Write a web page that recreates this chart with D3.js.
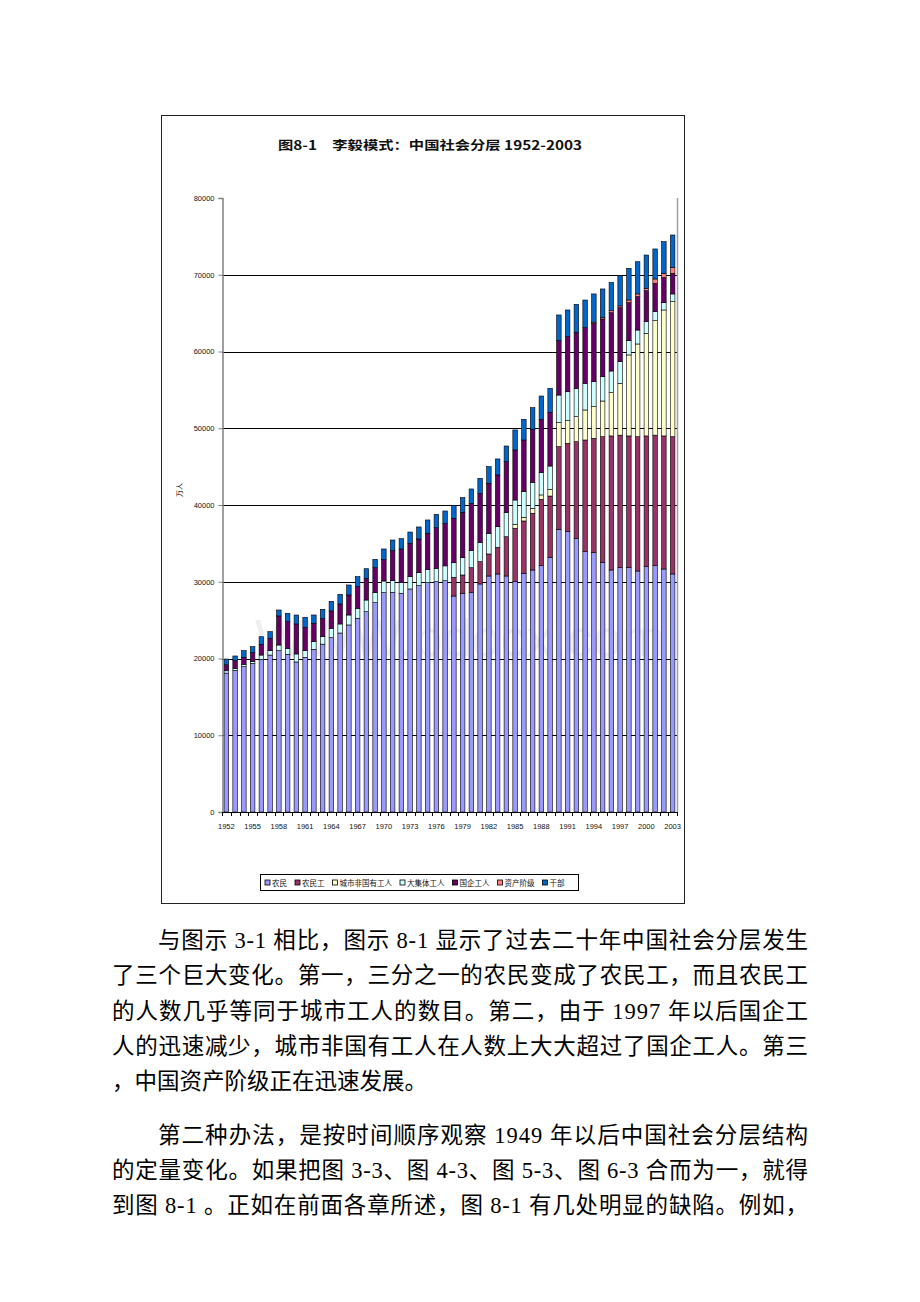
<!DOCTYPE html>
<html>
<head>
<meta charset="utf-8">
<script src="https://cdn.jsdelivr.net/npm/d3@7"></script>
<style>
  html, body { margin: 0; padding: 0; background: #fff; }
  svg { display: block; }
</style>
</head>
<body>
<svg id="page" width="920" height="1302"></svg>
<script>
// ---------- DATA ----------
const years = [1952,1953,1954,1955,1956,1957,1958,1959,1960,1961,
  1962,1963,1964,1965,1966,1967,1968,1969,1970,1971,
  1972,1973,1974,1975,1976,1977,1978,1979,1980,1981,
  1982,1983,1984,1985,1986,1987,1988,1989,1990,1991,
  1992,1993,1994,1995,1996,1997,1998,1999,2000,2001,
  2002,2003];
const xTickLabels = [1952,1955,1958,1961,1964,1967,1970,1973,1976,1979,1982,1985,1988,1991,1994,1997,2000,2003];
const yTickValues = [0,10000,20000,30000,40000,50000,60000,70000,80000];

const seriesNames = ["农民","农民工","城市非国有工人","大集体工人","国企工人","资产阶级","干部"];

const peasants = [18100,18460,18940,19370,19890,20450,21020,20550,19550,20150,
  21200,21870,22730,23320,24370,25240,26100,27280,28580,28630,
  28500,29060,29490,29880,30010,30140,28140,28500,28580,29710,
  30750,31010,30750,30010,31100,31530,32090,33190,36830,36520,
  35660,33920,33790,32540,31530,31830,31830,31400,31960,32090,
  31660,31010];
const migrantWorkers = [0,0,0,0,0,0,0,0,0,0,
  0,0,0,0,0,0,0,0,0,0,
  0,0,0,0,0,0,2440,2380,3250,2910,
  2870,3480,5120,6960,6820,7390,8650,7980,10770,11520,
  12590,14550,14900,16360,17470,17270,17170,17500,17040,17010,
  17340,17890];
const urbanNonState = [0,0,0,0,0,0,0,0,0,0,
  0,0,0,0,0,0,0,0,0,0,
  0,0,0,0,0,0,0,0,0,0,
  0,0,0,520,480,650,570,880,3130,2950,
  3260,3910,4120,4650,5640,6750,10550,12080,13370,14920,
  16410,17590];
const collectiveWorkers = [300,250,300,250,560,570,740,780,1040,870,
  990,970,1210,1180,1300,1300,1520,1300,1520,1510,
  1430,1600,1690,1740,1740,1930,1900,2260,2220,2470,
  2690,2690,3130,3160,3340,3390,2900,3030,3600,3770,
  3690,3470,3260,3170,2820,2830,1860,1820,1520,1170,
  950,1010];
const soeWorkers = [780,1010,910,1140,1400,1610,3780,3470,3910,3050,
  2400,2360,2250,2600,2610,2820,2830,3250,2820,3910,
  4340,4350,4390,4690,5300,5510,5790,5910,6170,6410,
  6520,6730,6650,6520,6730,6910,6960,7000,7080,7170,
  7300,7260,7610,7520,7600,7030,4950,4350,4040,3700,
  3260,2690];
const bourgeoisie = [0,0,0,0,0,0,0,0,0,0,
  0,0,0,0,0,0,0,0,0,0,
  0,0,0,0,0,0,0,0,0,0,
  0,0,0,0,0,0,0,0,0,0,
  0,0,150,200,250,220,350,350,300,560,
  570,780];
const cadres = [750,610,870,780,990,870,780,1090,1170,1300,
  1080,1210,1260,1260,1300,1300,1250,1090,1350,1390,
  1340,1470,1570,1740,1740,1640,1690,1910,1870,1980,
  2170,2090,2040,2610,2700,2810,3030,3120,3350,3480,
  3650,3600,3670,3710,3690,3950,4130,4200,4340,3910,
  4120,4210];

const seriesValues = [peasants, migrantWorkers, urbanNonState, collectiveWorkers, soeWorkers, bourgeoisie, cadres];
const seriesColors = ["#9999ff","#993366","#ffffcc","#ccffff","#660066","#ff8080","#0066cc"];

const chartTitle = "图8-1　李毅模式：中国社会分层 1952-2003";
const yAxisTitle = "万人";

const bodyLines = [
  {t:"与图示 3-1 相比，图示 8-1 显示了过去二十年中国社会分层发生", indent:true, justify:true},
  {t:"了三个巨大变化。第一，三分之一的农民变成了农民工，而且农民工", indent:false, justify:true},
  {t:"的人数几乎等同于城市工人的数目。第二，由于 1997 年以后国企工", indent:false, justify:true},
  {t:"人的迅速减少，城市非国有工人在人数上大大超过了国企工人。第三", indent:false, justify:true},
  {t:"，中国资产阶级正在迅速发展。", indent:false, justify:false},
  {t:"第二种办法，是按时间顺序观察 1949 年以后中国社会分层结构", indent:true, justify:true, newPara:true},
  {t:"的定量变化。如果把图 3-3、图 4-3、图 5-3、图 6-3 合而为一，就得", indent:false, justify:true},
  {t:"到图 8-1 。正如在前面各章所述，图 8-1 有几处明显的缺陷。例如，", indent:false, justify:true}
];

// ---------- LAYOUT ----------
const svg = d3.select("#page");
const CJK = "'Noto Sans CJK SC', 'Noto Sans', sans-serif";
const LATIN = "'Liberation Sans', Arial, " + CJK;

const frame = {x:161.5, y:115.5, w:523, h:788};
const plot = {left:222, right:677, top:198, bottom:812};

svg.append("rect")
  .attr("x", frame.x).attr("y", frame.y)
  .attr("width", frame.w).attr("height", frame.h)
  .attr("fill", "#fff").attr("stroke", "#222").attr("stroke-width", 1);

// title
svg.append("text")
  .attr("x", 430).attr("y", 150)
  .attr("text-anchor", "middle")
  .attr("font-family", CJK).attr("font-weight", "bold")
  .attr("font-size", 12.5)
  .attr("textLength", 304).attr("lengthAdjust", "spacingAndGlyphs")
  .attr("fill", "#111")
  .text(chartTitle);

// scales
const x = d3.scaleBand().domain(years).range([plot.left, plot.right])
  .paddingInner(0.48).paddingOuter(0.24);
const y = d3.scaleLinear().domain([0, 80000]).range([plot.bottom, plot.top]);

// watermark
svg.append("text")
  .attr("x", 255).attr("y", 656)
  .attr("font-family", LATIN).attr("font-size", 52)
  .attr("textLength", 410).attr("lengthAdjust", "spacingAndGlyphs")
  .attr("fill", "#efefef")
  .text("WWW.bdocx.com");

// gridlines
svg.append("g").selectAll("line")
  .data(yTickValues.filter(v => v > 0 && v < 80000))
  .join("line")
  .attr("x1", plot.left).attr("x2", plot.right)
  .attr("y1", d => Math.round(y(d)) + 0.5).attr("y2", d => Math.round(y(d)) + 0.5)
  .attr("stroke", "#000").attr("stroke-width", 1);

// plot right border
svg.append("line")
  .attr("x1", plot.right + 0.5).attr("x2", plot.right + 0.5)
  .attr("y1", plot.top).attr("y2", plot.bottom)
  .attr("stroke", "#a0a0a0").attr("stroke-width", 1.5);

// stacked bars
const table = years.map((yr, i) => {
  const row = {year: yr};
  seriesNames.forEach((n, k) => row[n] = seriesValues[k][i]);
  return row;
});
const stacked = d3.stack().keys(seriesNames)(table);

const layers = svg.append("g").selectAll("g")
  .data(stacked).join("g")
  .attr("fill", (d, i) => seriesColors[i]);
layers.selectAll("rect")
  .data(d => d.filter(s => s[1] - s[0] > 0))
  .join("rect")
  .attr("x", d => x(d.data.year))
  .attr("width", x.bandwidth())
  .attr("y", d => y(d[1]))
  .attr("height", d => y(d[0]) - y(d[1]))
  .attr("stroke", "#000").attr("stroke-width", 0.6);

// y axis
const yAxis = svg.append("g")
  .attr("transform", `translate(${plot.left + 0.5},0)`)
  .call(d3.axisLeft(y).tickValues(yTickValues).tickSize(4).tickPadding(4).tickFormat(d3.format("d")));
yAxis.select(".domain").attr("stroke", "#808080").attr("stroke-width", 1.5);
yAxis.selectAll(".tick line").attr("stroke", "#808080");
yAxis.selectAll("text").attr("font-family", LATIN).attr("font-size", 7.5).attr("fill", "#111");

svg.append("text")
  .attr("transform", `translate(182,490) rotate(-90)`)
  .attr("text-anchor", "middle")
  .attr("font-family", CJK).attr("font-size", 7)
  .attr("fill", "#111")
  .text(yAxisTitle);

// x axis
const step = x.step();
svg.append("line")
  .attr("x1", plot.left).attr("x2", plot.right)
  .attr("y1", plot.bottom + 0.5).attr("y2", plot.bottom + 0.5)
  .attr("stroke", "#000").attr("stroke-width", 1);
svg.append("g").selectAll("line")
  .data(years.concat([null]))
  .join("line")
  .attr("x1", (d, i) => Math.round(plot.left + i * step) + 0.5)
  .attr("x2", (d, i) => Math.round(plot.left + i * step) + 0.5)
  .attr("y1", plot.bottom).attr("y2", plot.bottom + 4)
  .attr("stroke", "#000");
svg.append("g").selectAll("text")
  .data(xTickLabels)
  .join("text")
  .attr("x", d => x(d) + x.bandwidth() / 2)
  .attr("y", plot.bottom + 17)
  .attr("text-anchor", "middle")
  .attr("font-family", LATIN).attr("font-size", 7.5)
  .attr("fill", "#111")
  .text(d => d);

// legend
const legend = svg.append("g");
legend.append("rect")
  .attr("x", 260.5).attr("y", 874.5).attr("width", 318).attr("height", 16)
  .attr("fill", "#fff").attr("stroke", "#000").attr("stroke-width", 1);
let lx = 265;
seriesNames.forEach((name, i) => {
  legend.append("rect")
    .attr("x", lx).attr("y", 880).attr("width", 5).attr("height", 5)
    .attr("fill", seriesColors[i]).attr("stroke", "#000").attr("stroke-width", 0.8);
  const t = legend.append("text")
    .attr("x", lx + 7).attr("y", 885.5)
    .attr("font-family", CJK).attr("font-size", 7.5)
    .attr("fill", "#111")
    .text(name);
  lx += 7 + name.length * 7.5 + 8;
});

// body text
let by = 948;
bodyLines.forEach((ln, i) => {
  if (ln.newPara) by += 18;
  const x0 = ln.indent ? 158 : 112;
  const t = svg.append("text")
    .attr("x", x0).attr("y", by)
    .attr("font-family", "'Liberation Serif', " + CJK)
    .attr("font-size", 22.5)
    .attr("fill", "#000")
    .text(ln.t);
  if (ln.justify) t.attr("textLength", 808 - x0).attr("lengthAdjust", "spacing");
  by += 35.3;
});
</script>
</body>
</html>
